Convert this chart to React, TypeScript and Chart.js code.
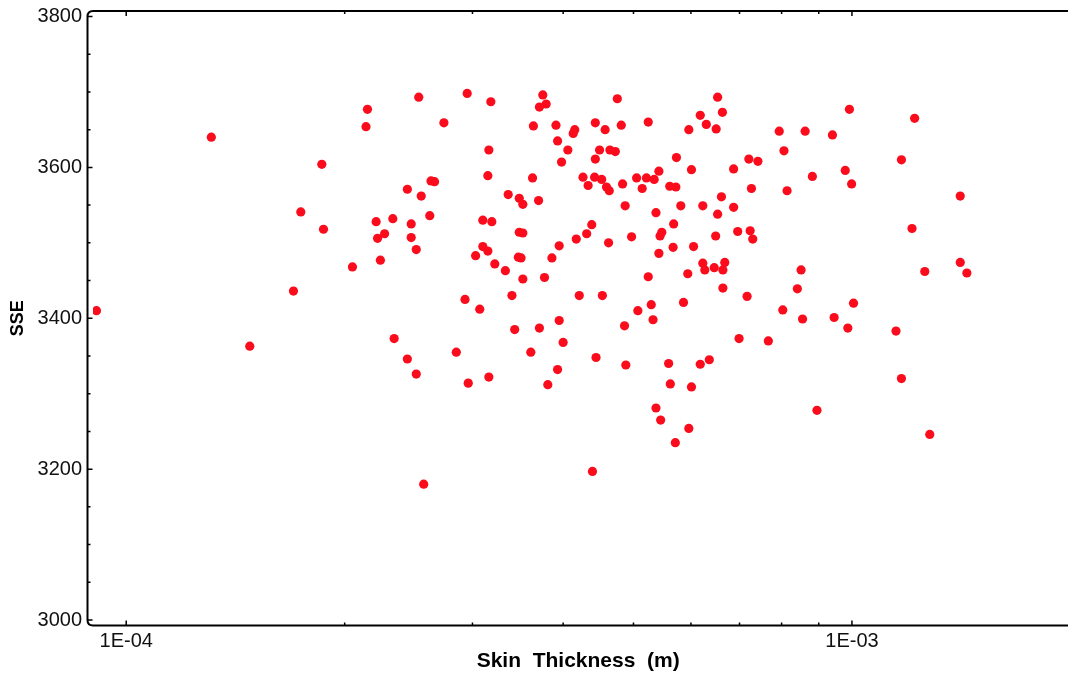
import React, { useEffect, useRef } from "react";
import { Chart, registerables } from "chart.js";
Chart.register(...registerables);

// Skin thickness (m) and SSE values
const skinThickness = [
  9.1e-5, 1.31e-4, 1.48e-4, 1.70e-4, 1.74e-4, 1.86e-4, 1.87e-4, 2.05e-4,
  2.15e-4, 2.14e-4, 2.53e-4, 2.95e-4, 2.74e-4, 2.44e-4, 2.55e-4, 2.63e-4, 2.66e-4, 2.21e-4,
  2.33e-4, 2.47e-4, 2.62e-4, 2.27e-4, 2.22e-4, 2.47e-4, 2.51e-4, 2.24e-4,
  2.34e-4, 2.44e-4, 2.51e-4, 2.85e-4, 2.93e-4, 2.96e-4, 2.57e-4,
  3.18e-4, 3.75e-4, 3.79e-4, 3.71e-4, 4.75e-4, 6.53e-4, 6.18e-4, 6.63e-4, 6.30e-4, 6.50e-4,
  5.96e-4, 5.24e-4, 4.81e-4, 4.43e-4, 4.57e-4, 3.91e-4, 3.64e-4, 4.15e-4, 4.13e-4, 3.93e-4,
  4.06e-4, 3.98e-4, 4.49e-4, 4.43e-4, 4.64e-4, 4.72e-4, 5.73e-4, 6.01e-4, 5.42e-4, 3.16e-4,
  3.15e-4, 3.63e-4, 4.26e-4, 4.42e-4, 4.52e-4, 4.33e-4, 4.59e-4, 4.63e-4, 4.83e-4, 5.05e-4,
  5.21e-4, 5.34e-4, 5.14e-4, 5.61e-4, 5.72e-4, 3.36e-4, 3.48e-4, 3.52e-4, 3.70e-4, 4.87e-4,
  5.37e-4, 5.81e-4, 6.23e-4, 6.61e-4, 6.53e-4, 3.10e-4, 3.19e-4, 3.48e-4, 3.52e-4, 5.68e-4,
  5.47e-4, 5.44e-4, 6.49e-4, 4.38e-4, 4.31e-4, 4.17e-4, 4.97e-4, 4.62e-4, 3.95e-4, 3.86e-4,
  3.47e-4, 3.50e-4, 3.10e-4, 3.15e-4, 3.03e-4, 3.22e-4, 3.33e-4, 3.52e-4, 3.77e-4, 5.42e-4,
  5.67e-4, 6.05e-4, 5.24e-4, 5.94e-4, 6.23e-4, 6.27e-4, 6.46e-4, 6.64e-4, 6.68e-4,
  6.64e-4, 3.07e-4, 3.40e-4, 4.21e-4, 4.53e-4, 5.07e-4, 5.29e-4, 5.32e-4, 4.86e-4, 5.86e-4,
  3.43e-4, 3.71e-4, 3.95e-4, 4.00e-4, 3.61e-4, 4.44e-4, 4.88e-4, 5.59e-4, 5.62e-4, 6.01e-4,
  6.18e-4, 6.36e-4, 3.16e-4, 3.93e-4, 3.81e-4, 5.37e-4, 5.45e-4, 5.96e-4, 5.71e-4, 4.39e-4,
  9.92e-4, 1.22e-3, 7.94e-4, 8.62e-4, 9.40e-4, 8.06e-4, 7.21e-4, 7.42e-4, 1.17e-3, 6.87e-4,
  8.82e-4, 9.79e-4, 9.99e-4, 7.27e-4, 8.14e-4, 1.41e-3, 6.87e-4, 6.96e-4, 7.24e-4, 7.30e-4,
  1.21e-3, 8.51e-4, 1.26e-3, 1.41e-3, 1.44e-3,
  8.41e-4, 7.17e-4, 1.005e-3, 8.03e-4, 8.55e-4, 9.45e-4, 9.87e-4, 1.15e-3, 6.99e-4, 7.67e-4,
  1.17e-3, 8.95e-4, 1.28e-3,
];

const sse = [
  3410, 3640, 3363, 3436, 3541, 3604, 3518, 3468,
  3677, 3654, 3693, 3698, 3659, 3571, 3562, 3582, 3581, 3528,
  3532, 3525, 3536, 3512, 3506, 3507, 3491, 3477,
  3373, 3346, 3326, 3355, 3425, 3314, 3180,
  3687, 3696, 3684, 3680, 3691, 3693, 3669, 3673, 3657, 3651,
  3650, 3660, 3656, 3659, 3650, 3656, 3655, 3650, 3645, 3635,
  3623, 3607, 3623, 3611, 3623, 3621, 3613, 3597, 3595, 3623,
  3589, 3586, 3587, 3587, 3584, 3576, 3574, 3569, 3578, 3586,
  3586, 3584, 3572, 3575, 3574, 3564, 3559, 3551, 3556, 3549,
  3540, 3549, 3549, 3561, 3538, 3530, 3528, 3514, 3513, 3525,
  3514, 3509, 3509, 3524, 3512, 3505, 3508, 3500, 3496, 3480,
  3481, 3480, 3495, 3489, 3483, 3472, 3463, 3452, 3454, 3486,
  3494, 3495, 3455, 3459, 3473, 3464, 3467, 3464, 3474,
  3440, 3412, 3430, 3430, 3430, 3410, 3418, 3398, 3390, 3421,
  3385, 3387, 3397, 3368, 3355, 3348, 3338, 3340, 3313, 3309,
  3339, 3345, 3322, 3332, 3312, 3281, 3265, 3254, 3235, 3197,
  3677, 3665, 3648, 3648, 3643, 3622, 3611, 3608, 3610, 3598,
  3588, 3596, 3578, 3572, 3569, 3562, 3547, 3515, 3516, 3505,
  3519, 3464, 3462, 3474, 3460,
  3439, 3429, 3420, 3411, 3399, 3401, 3387, 3383, 3373, 3370,
  3320, 3278, 3246,
];

const xMajorTicks = [1e-4, 1e-3];
const xMinorTicks = [2e-4, 3e-4, 4e-4, 5e-4, 6e-4, 7e-4, 8e-4, 9e-4];
const yMajorTicks = [3000, 3200, 3400, 3600, 3800];
const yMinorTicks = [3050, 3100, 3150, 3250, 3300, 3350, 3450, 3500, 3550, 3650, 3700, 3750];
const xAxisTitle = "Skin  Thickness  (m)";
const yAxisTitle = "SSE";
const X_MIN = 9e-5;
const X_MAX = 1.956e-3;
const Y_MIN = 3000;
const Y_MAX = 3800;

const FONT = "'Liberation Sans', Arial, sans-serif";

function fmtExp(v: number): string {
  const e = Math.round(Math.log10(v));
  const m = Math.round(v / Math.pow(10, e));
  const sign = e < 0 ? "-" : "+";
  return `${m}E${sign}${String(Math.abs(e)).padStart(2, "0")}`;
}

const framePlugin = {
  id: "frame",
  afterDraw(chart: any) {
    const { ctx, chartArea: a, scales } = chart;
    const xs = scales.x;
    const ys = scales.y;
    const off = 5.5;
    const L = a.left - off;
    const B = a.bottom + off;
    const T = a.top - off;
    const W = chart.width;
    ctx.save();
    ctx.strokeStyle = "#000";
    ctx.lineWidth = 2;
    ctx.beginPath();
    ctx.moveTo(W, T);
    ctx.lineTo(a.left, T);
    ctx.quadraticCurveTo(L, T, L, a.top);
    ctx.lineTo(L, a.bottom);
    ctx.quadraticCurveTo(L, B, a.left, B);
    ctx.lineTo(W, B);
    ctx.stroke();

    ctx.lineWidth = 1.5;
    ctx.beginPath();
    yMajorTicks.forEach((v) => {
      const p = ys.getPixelForValue(v);
      ctx.moveTo(L, p);
      ctx.lineTo(L + 5, p);
    });
    yMinorTicks.forEach((v) => {
      const p = ys.getPixelForValue(v);
      ctx.moveTo(L, p);
      ctx.lineTo(L + 3, p);
    });
    xMajorTicks.forEach((v) => {
      const p = xs.getPixelForValue(v);
      ctx.moveTo(p, B);
      ctx.lineTo(p, B - 5);
      ctx.moveTo(p, T);
      ctx.lineTo(p, T + 5);
    });
    xMinorTicks.forEach((v) => {
      const p = xs.getPixelForValue(v);
      ctx.moveTo(p, B);
      ctx.lineTo(p, B - 3);
      ctx.moveTo(p, T);
      ctx.lineTo(p, T + 3);
    });
    ctx.stroke();
    ctx.restore();
  },
};

export default function App() {
  const ref = useRef<HTMLCanvasElement | null>(null);

  useEffect(() => {
    document.body.style.margin = "0";
    const canvas = ref.current;
    if (!canvas) return;
    const points = skinThickness.map((x, i) => ({ x, y: sse[i] }));
    const chart = new Chart(canvas, {
      type: "scatter",
      data: {
        datasets: [
          {
            data: points,
            backgroundColor: "#fa0c1c",
            borderColor: "#fa0c1c",
            borderWidth: 0,
            pointRadius: 4.6,
          },
        ],
      },
      options: {
        responsive: false,
        animation: false,
        devicePixelRatio: 1,
        layout: { padding: { top: 16.5, right: 0, left: 0, bottom: 0 } },
        plugins: {
          legend: { display: false },
          tooltip: { enabled: false },
        },
        scales: {
          x: {
            type: "logarithmic",
            min: X_MIN,
            max: X_MAX,
            grid: { display: false, drawTicks: false },
            border: { display: false },
            afterBuildTicks: (s: any) => {
              s.ticks = xMajorTicks.map((v) => ({ value: v }));
            },
            afterFit: (s: any) => {
              s.height = 57;
              s.paddingLeft = 0;
              s.paddingRight = 0;
            },
            ticks: {
              autoSkip: false,
              maxRotation: 0,
              padding: 9,
              color: "#111",
              font: { family: FONT, size: 20 },
              callback: (v: any) => fmtExp(Number(v)),
            },
            title: {
              display: true,
              text: xAxisTitle,
              color: "#000",
              font: { family: FONT, size: 21, weight: "bold" },
              padding: { top: 0, bottom: 3 },
            },
          },
          y: {
            type: "linear",
            min: Y_MIN,
            max: Y_MAX,
            grid: { display: false, drawTicks: false },
            border: { display: false },
            afterBuildTicks: (s: any) => {
              s.ticks = yMajorTicks.map((v) => ({ value: v }));
            },
            afterFit: (s: any) => {
              s.width = 93;
              s.paddingTop = 0;
              s.paddingBottom = 0;
            },
            ticks: {
              padding: 11,
              color: "#111",
              font: { family: FONT, size: 20 },
              callback: (v: any) => String(v),
            },
            title: {
              display: true,
              text: yAxisTitle,
              color: "#000",
              font: { family: FONT, size: 18, weight: "bold" },
              padding: { top: 7, bottom: 0 },
            },
          },
        },
      },
      plugins: [framePlugin],
    } as any);
    return () => chart.destroy();
  }, []);

  return (
    <canvas
      ref={ref}
      width={1068}
      height={677}
      style={{ display: "block", width: 1068, height: 677 }}
    />
  );
}
